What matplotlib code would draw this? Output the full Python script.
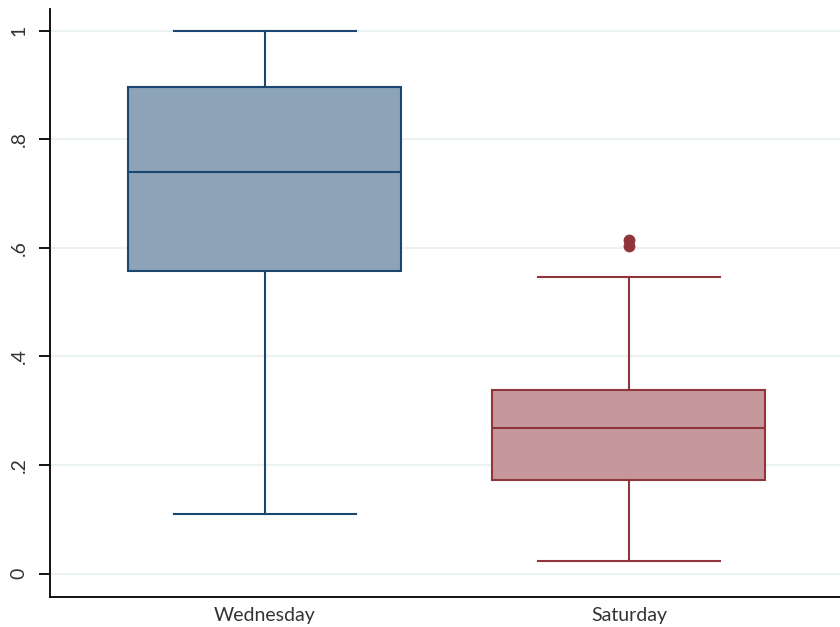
import matplotlib.pyplot as plt
import numpy as np

days = ['Wednesday', 'Saturday']
lo_whisk = [0.109, 0.024]
q1 = [0.557, 0.172]
med = [0.740, 0.268]
q3 = [0.897, 0.338]
hi_whisk = [1.0, 0.546]
outliers = [[], [0.603, 0.614]]

edge_cols = ['#1A476F', '#90353B']
fill_cols = ['#8CA3B8', '#C6989B']

plt.rcParams['font.family'] = ['Lato', 'DejaVu Sans']

fig = plt.figure(figsize=(8.4, 6.27), dpi=100)
ax = fig.add_axes([50/840, 30/627, 790/840, 588/627])

stats = []
for i, d in enumerate(days):
    stats.append(dict(label=d, whislo=lo_whisk[i], q1=q1[i], med=med[i],
                      q3=q3[i], whishi=hi_whisk[i], fliers=outliers[i]))

for i, s in enumerate(stats):
    c = edge_cols[i]
    ax.bxp([s], positions=[i + 1], widths=0.75, capwidths=0.5,
           patch_artist=True, showfliers=True,
           boxprops=dict(facecolor=fill_cols[i], edgecolor=c, linewidth=1.5),
           medianprops=dict(color=c, linewidth=1.5),
           whiskerprops=dict(color=c, linewidth=1.5),
           capprops=dict(color=c, linewidth=1.5),
           flierprops=dict(marker='o', markerfacecolor=c, markeredgecolor=c,
                           markersize=7.5))

ax.set_xlim(0.41, 2.58)
ax.set_ylim(-0.043, 1.04)
ax.set_yticks([0, 0.2, 0.4, 0.6, 0.8, 1.0])
ax.set_yticklabels(['0', '.2', '.4', '.6', '.8', '1'], rotation=90, va='center')
ax.set_xticks([1, 2])
ax.set_xticklabels(days)
ax.grid(axis='y', color='#EAF2F3', linewidth=1.5)
ax.set_axisbelow(True)
for sp in ['top', 'right']:
    ax.spines[sp].set_visible(False)
ax.spines['left'].set_linewidth(1.3)
ax.spines['bottom'].set_linewidth(1.3)
ax.tick_params(axis='x', length=0, pad=7, labelsize=14, labelcolor='#333333')
ax.tick_params(axis='y', length=8, width=1.3, pad=8, labelsize=14, labelcolor='#333333')

plt.savefig('out.png', dpi=100)
